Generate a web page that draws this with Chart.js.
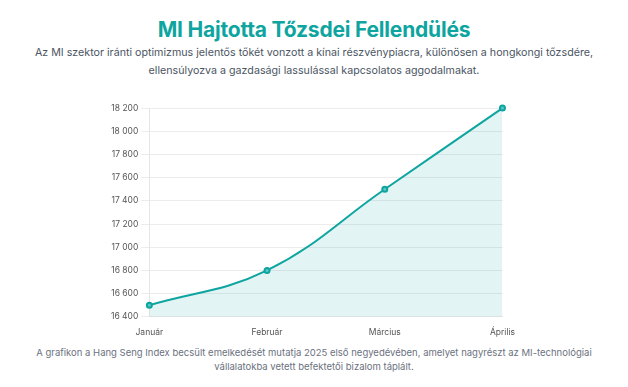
<!DOCTYPE html>
<html lang="hu">
<head>
<meta charset="utf-8">
<script src="https://cdn.jsdelivr.net/npm/chart.js@4.4.1/dist/chart.umd.min.js"></script>
<style>
  body { margin: 0; background: #fff; font-family: Inter, "Noto Sans", sans-serif; }
  .wrap { width: 628px; height: 387px; position: relative; }
  h1 { margin: 0; position: absolute; top: 17px; left: 0; width: 628px; text-align: center;
       font-size: 21px; font-weight: 700; color: #0ea5a0; letter-spacing: -0.2px; }
  .sub { position: absolute; top: 44px; left: 4px; width: 620px; text-align: center;
         font-size: 10.7px; line-height: 18px; color: #4b5563; }
  .box { position: absolute; top: 100px; left: 108px; width: 410px; height: 241px; }
  .foot { position: absolute; top: 346px; left: 20px; width: 588px; text-align: center;
          font-size: 9.5px; line-height: 14px; color: #6b7280; }
</style>
</head>
<body>
<div class="wrap">
  <h1>MI Hajtotta Tőzsdei Fellendülés</h1>
  <div class="sub">Az MI szektor iránti optimizmus jelentős tőkét vonzott a kínai részvénypiacra, különösen a hongkongi tőzsdére, ellensúlyozva a gazdasági lassulással kapcsolatos aggodalmakat.</div>
  <div class="box"><canvas id="chart"></canvas></div>
  <div class="foot">A grafikon a Hang Seng Index becsült emelkedését mutatja 2025 első negyedévében, amelyet nagyrészt az MI-technológiai vállalatokba vetett befektetői bizalom táplált.</div>
</div>
<script>
// adatok
const months = ["Január", "Február", "Március", "Április"];
const indexValues = [16500, 16800, 17500, 18200];

const ctx = document.getElementById("chart").getContext("2d");
new Chart(ctx, {
  type: "line",
  data: {
    labels: months,
    datasets: [{
      label: "Hang Seng Index",
      data: indexValues,
      borderColor: "#0ea5a0",
      backgroundColor: "rgba(14, 165, 160, 0.12)",
      pointBackgroundColor: "#5cc6c2",
      pointBorderColor: "#0ea5a0",
      pointBorderWidth: 2,
      pointRadius: 2.5,
      borderWidth: 2,
      fill: true,
      tension: 0.4,
      clip: false
    }]
  },
  options: {
    responsive: true,
    maintainAspectRatio: false,
    animation: false,
    locale: "hu-HU",
    layout: { padding: { top: 0, right: 4 } },
    plugins: {
      legend: { display: false },
      tooltip: { enabled: false }
    },
    scales: {
      x: {
        grid: { display: false },
        border: { color: "#e5e5e5" },
        ticks: { color: "#555", font: { family: "Inter", size: 8.5 } }
      },
      y: {
        min: 16400,
        max: 18200,
        ticks: { stepSize: 200, color: "#555", font: { family: "Inter", size: 8.5 } },
        grid: { color: "#ececec" },
        border: { color: "#e5e5e5" }
      }
    }
  }
});
</script>
</body>
</html>
